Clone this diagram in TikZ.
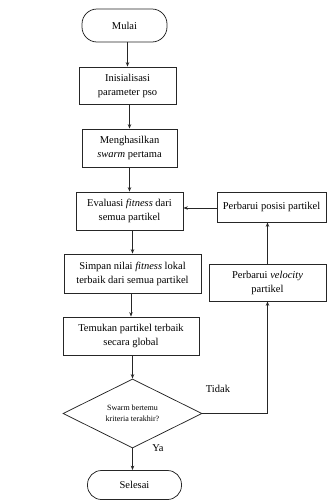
\documentclass[tikz,border=0pt]{standalone}
\usepackage{fontspec}
\setmainfont{Liberation Serif}
\usetikzlibrary{arrows.meta,shapes.geometric}
\begin{document}
\begin{tikzpicture}[x=1pt,y=-1pt,
  base/.style={draw=black!85,line width=0.75pt,align=center,inner sep=1pt,font=\fontsize{10.5}{14}\selectfont},
  procbox/.style={base,rectangle},
  term/.style={base,rectangle,rounded corners=15pt},
  decision/.style={base,diamond,aspect=2,inner sep=0pt,font=\fontsize{8}{11}\selectfont},
  arr/.style={draw=black!85,line width=0.75pt,-{Stealth[length=4.5pt,width=3.5pt]}},
  lab/.style={font=\fontsize{10.5}{12}\selectfont}]
\useasboundingbox (0,0) rectangle (327,501);
\node[term,minimum width=85pt,minimum height=33pt] (mulai) at (124.5,25.5) {Mulai};
\node[procbox,minimum width=97pt,minimum height=37pt] (ini) at (127.5,85.5) {Inisialisasi\\parameter pso};
\node[procbox,minimum width=95pt,minimum height=38pt] (gen) at (129.5,148) {Menghasilkan\\\textit{swarm} pertama};
\node[procbox,minimum width=107pt,minimum height=38pt] (eval) at (129.5,211) {Evaluasi \textit{fitness} dari\\semua partikel};
\node[procbox,minimum width=109pt,minimum height=30pt] (pos) at (271.5,207) {Perbarui posisi partikel};
\node[procbox,minimum width=137pt,minimum height=39pt] (simpan) at (132.5,273.5) {Simpan nilai \textit{fitness} lokal\\terbaik dari semua partikel};
\node[procbox,minimum width=117pt,minimum height=37pt] (vel) at (267.5,282.5) {Perbarui \textit{velocity}\\partikel};
\node[procbox,minimum width=136pt,minimum height=38pt] (temu) at (131,336) {Temukan partikel terbaik\\secara global};
\node[decision,minimum width=139pt,minimum height=69pt] (dec) at (132.5,413.5) {Swarm bertemu\\kriteria terakhir?};
\node[term,minimum width=94pt,minimum height=29pt,rounded corners=14pt] (selesai) at (134.5,485) {Selesai};
\node[lab] (tidak) at (218,389) {Tidak};
\node[lab] (ya) at (158,448) {Ya};
\draw[arr] (mulai.south -| ini) -- (ini.north);
\draw[arr] (ini.south -| gen) -- (gen.north);
\draw[arr] (gen.south -| eval) -- (eval.north);
\draw[arr] (eval.south -| simpan) -- (simpan.north);
\draw[arr] (simpan.south -| temu) -- (temu.north);
\draw[arr] (temu.south -| dec) -- (dec.north);
\draw[arr] (dec.south) -- (selesai.north -| dec.south);
\draw[arr] (dec.east) -| (vel.south);
\draw[arr] (vel.north) -- (vel.north |- pos.south);
\draw[arr] (pos.west |- 0,208) -- (eval.east |- 0,208);
\end{tikzpicture}
\end{document}
